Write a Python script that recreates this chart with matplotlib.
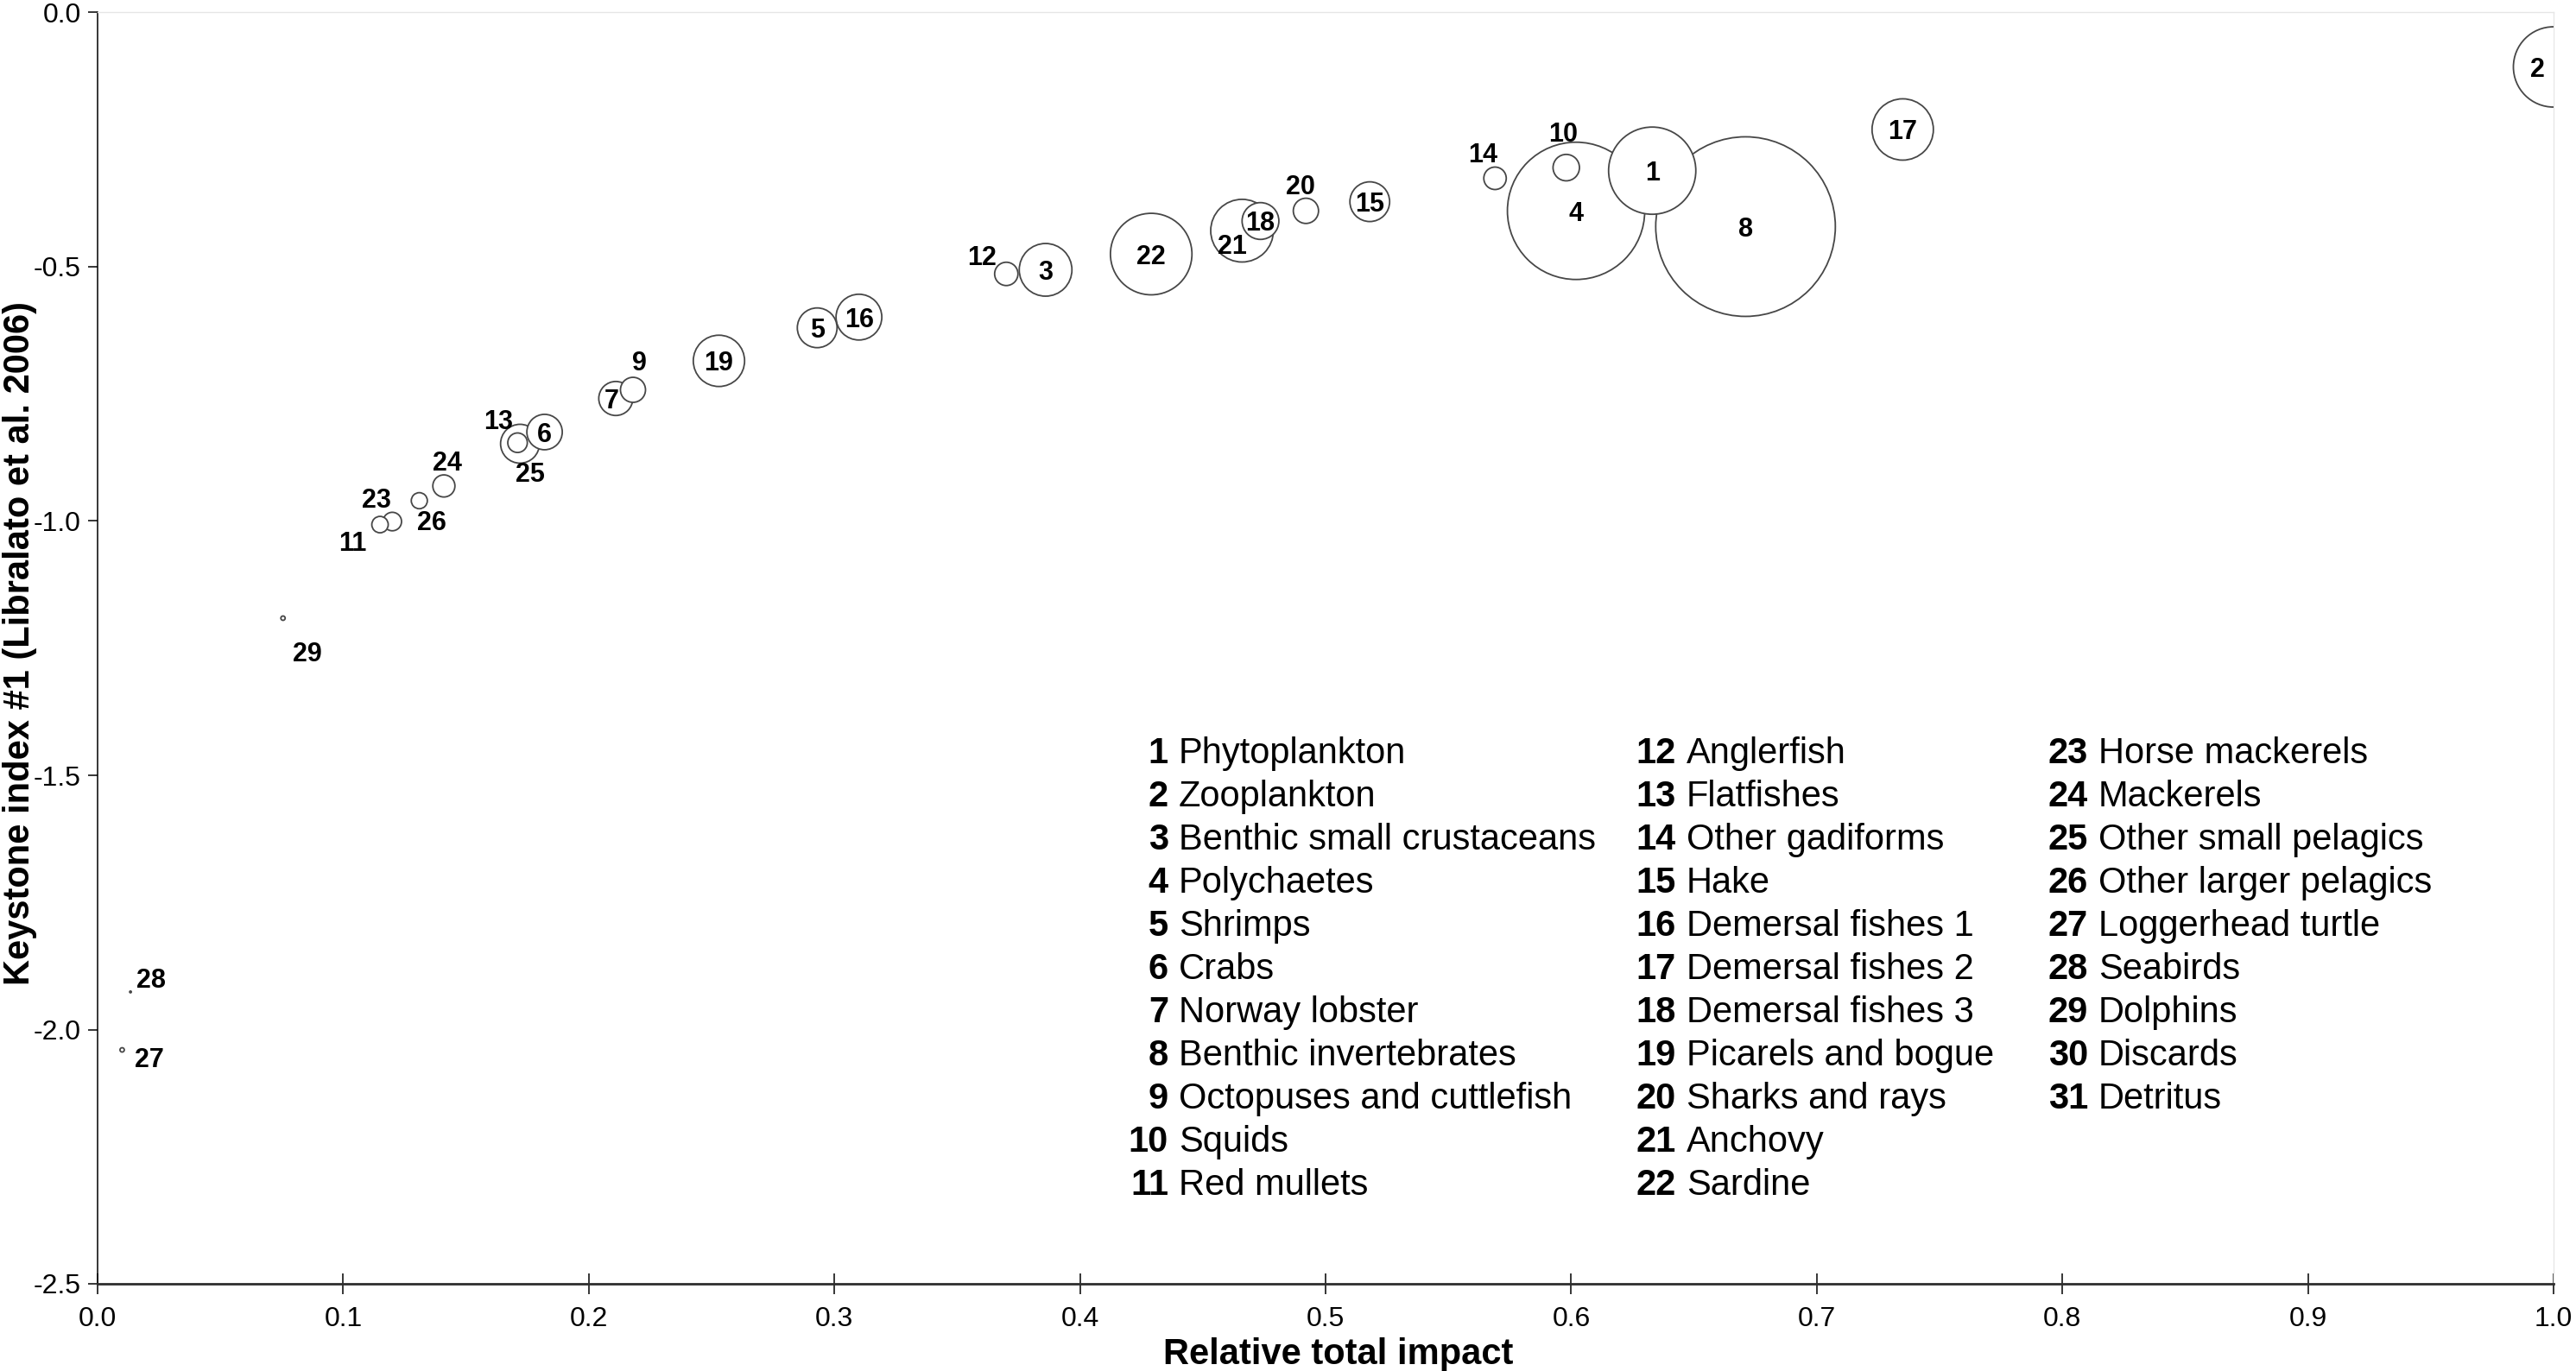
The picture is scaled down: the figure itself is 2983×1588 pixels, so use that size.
import numpy as np
import matplotlib
matplotlib.use("Agg")
import matplotlib.pyplot as plt

plt.rcParams['font.family'] = ['Liberation Sans', 'DejaVu Sans']
plt.rcParams['axes.unicode_minus'] = False

# functional groups (legend)
group_names = ["Phytoplankton", "Zooplankton", "Benthic small crustaceans", "Polychaetes",
               "Shrimps", "Crabs", "Norway lobster", "Benthic invertebrates",
               "Octopuses and cuttlefish", "Squids", "Red mullets", "Anglerfish",
               "Flatfishes", "Other gadiforms", "Hake", "Demersal fishes 1",
               "Demersal fishes 2", "Demersal fishes 3", "Picarels and bogue",
               "Sharks and rays", "Anchovy", "Sardine", "Horse mackerels", "Mackerels",
               "Other small pelagics", "Other larger pelagics", "Loggerhead turtle",
               "Seabirds", "Dolphins", "Discards", "Detritus"]

# plotted groups (30 and 31 are not on the chart)
group_id = [1, 2, 3, 4, 5, 6, 7, 8, 9, 10, 11, 12, 13, 14, 15, 16, 17, 18, 19, 20,
            21, 22, 23, 24, 25, 26, 27, 28, 29]
rel_impact = [0.633, 1.000, 0.386, 0.602, 0.293, 0.182, 0.211, 0.671, 0.218, 0.598,
              0.115, 0.370, 0.171, 0.569, 0.518, 0.310, 0.735, 0.4735, 0.253, 0.492,
              0.466, 0.429, 0.120, 0.141, 0.172, 0.131, 0.010, 0.0134, 0.0755]
keystone = [-0.311, -0.107, -0.506, -0.390, -0.620, -0.825, -0.759, -0.421, -0.742, -0.305,
            -1.007, -0.514, -0.846, -0.326, -0.372, -0.599, -0.230, -0.410, -0.685, -0.390,
            -0.429, -0.475, -1.001, -0.931, -0.848, -0.960, -2.040, -1.926, -1.191]
# relative bubble radius
bubble_r = [50.5, 46.5, 30.5, 79.5, 23, 20.5, 19.7, 104, 14.5, 15.3,
            9.5, 13.5, 11.3, 13, 23, 26.5, 35.5, 21.3, 29.7, 14.6,
            36.3, 47.2, 10.7, 12.8, 22.5, 9.3, 2.5, 1.0, 2.5]

# label offsets from bubble centre, in pixels (right, down)
label_off = {2: (-19, 0), 7: (-5, 0), 9: (7, -34), 10: (-4, -42), 11: (-32, 19),
             12: (-28, -22), 13: (-22, -27), 14: (-14, -30), 20: (-6, -31),
             21: (-11, 15), 23: (-18, -28), 24: (4, -29), 25: (12, 33), 26: (14, 23),
             27: (31, 8), 28: (24, -16), 29: (28, 39)}

dpi = 100
W, H = 2983, 1588
fig = plt.figure(figsize=(W / dpi, H / dpi), dpi=dpi)
ax = fig.add_axes([113 / W, 1 - 1487 / H, 2844 / W, 1472.5 / H])

px2pt = 72.0 / dpi
x = np.array(rel_impact)
y = np.array(keystone)
r = np.array(bubble_r)
order = np.argsort(-r)
sizes = (2 * r * px2pt) ** 2
ax.scatter(x[order], y[order], s=sizes[order], facecolor='white', edgecolor='#474747',
           linewidth=1.3, zorder=3)

for i, gid in enumerate(group_id):
    dx, dy = label_off.get(gid, (0, 0))
    ax.annotate(str(gid), (x[i], y[i]), xytext=(dx * px2pt, -dy * px2pt),
                textcoords='offset points', ha='center', va='center_baseline',
                fontsize=22, fontweight='bold', zorder=5, annotation_clip=False)

ax.set_xlim(0, 1)
ax.set_ylim(-2.5, 0)
ax.set_xticks(np.arange(0, 1.01, 0.1))
ax.set_yticks(np.arange(-2.5, 0.01, 0.5))
ax.set_xticklabels(["%.1f" % v for v in np.arange(0, 1.01, 0.1)])
ax.set_yticklabels(["%.1f" % v for v in np.arange(-2.5, 0.01, 0.5)])
ax.tick_params(axis='x', direction='inout', length=17, width=1.1, pad=10, labelsize=23)
ax.tick_params(axis='y', direction='out', length=8, width=1.1, pad=6, labelsize=23)

ax.spines['top'].set_color('#e6e6e6')
ax.spines['right'].set_color('#e6e6e6')
ax.spines['top'].set_linewidth(1.0)
ax.spines['right'].set_linewidth(1.0)
ax.spines['left'].set_color('black')
ax.spines['left'].set_linewidth(1.1)
ax.spines['bottom'].set_color('#2e2e2e')
ax.spines['bottom'].set_linewidth(2.0)

ax.set_xlabel("Relative total impact", fontsize=30, fontweight='bold')
ax.xaxis.set_label_coords(0.505, -0.056)
ax.xaxis.label.set_va('center')
ax.set_ylabel("Keystone index #1 (Libralato et al. 2006)", fontsize=30, fontweight='bold')
ax.yaxis.set_label_coords(-0.0318, 0.504)
ax.yaxis.label.set_va('center')

# legend of group names in three columns
col_x = [1365, 1953, 2430]
col_rows = [11, 11, 9]
base_y = 884
row_step = 50
k = 0
for c, nrows in enumerate(col_rows):
    for rr in range(nrows):
        yy = 1 - (base_y + rr * row_step) / H
        fig.text((col_x[c] - 12) / W, yy, str(k + 1), ha='right', va='baseline',
                 fontsize=30, fontweight='bold')
        fig.text(col_x[c] / W, yy, group_names[k], ha='left', va='baseline', fontsize=30)
        k += 1

fig.savefig("out.png", dpi=dpi)
